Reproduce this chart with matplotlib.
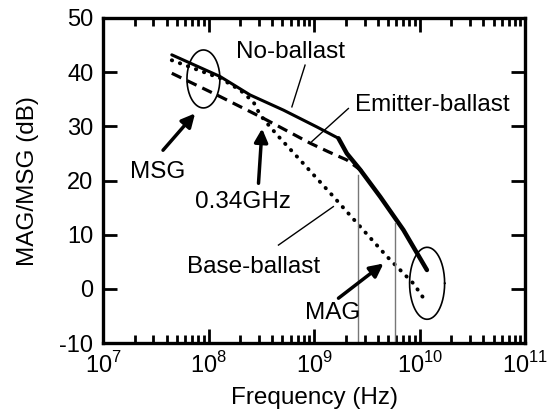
import matplotlib
matplotlib.use("Agg")
import matplotlib.pyplot as plt
import numpy as np

plt.rcParams['font.family'] = ['Liberation Sans', 'DejaVu Sans']
plt.rcParams['mathtext.fontset'] = 'custom'
plt.rcParams['mathtext.rm'] = 'Liberation Sans'
plt.rcParams['font.size'] = 17.5
plt.rcParams['axes.unicode_minus'] = False

# no-ballast (solid)
nb_f = [4.48e7, 1.285e8, 2.47e8, 5.12e8, 1.06e9, 1.70e9, 2.04e9, 2.73e9, 4.23e9, 7.0e9, 1.17e10]
nb_g = [43.2, 39.2, 35.8, 33.0, 29.9, 27.8, 25.0, 22.0, 17.0, 10.9, 3.5]

# emitter-ballast (dashed)
eb_f = [4.48e7, 1.285e8, 3.30e8, 6.15e8, 9.16e8, 1.37e9, 2.04e9, 2.91e9]
eb_g = [39.8, 35.5, 31.5, 28.7, 26.9, 25.3, 23.8, 21.6]

# base-ballast (dotted), MSG then MAG above 0.34 GHz
bb_f = [4.48e7, 1.285e8, 1.99e8, 2.66e8, 3.08e8, 3.83e8, 4.76e8, 7.36e8, 1.06e9,
        1.42e9, 2.73e9, 4.89e9, 8.73e9, 1.17e10]
bb_g = [42.2, 38.9, 36.7, 34.5, 32.1, 29.9, 27.8, 23.8, 20.4, 17.7, 11.5, 6.0, 1.0, -2.6]

# fmax markers (thin grey verticals)
vl_f = [2.59e9, 5.77e9]
vl_g = [21.0, 12.1]

fig = plt.figure(figsize=(5.6, 4.18), dpi=100)
ax = fig.add_axes([0.184, 0.179, 0.754, 0.778])

ax.plot(nb_f[:6], nb_g[:6], color='k', lw=2.2, solid_capstyle='round')
ax.plot(nb_f[5:], nb_g[5:], color='k', lw=3.2, solid_capstyle='round')
ax.plot(eb_f, eb_g, color='k', lw=2.3, linestyle=(0, (3.3, 2.0)))
ax.plot(bb_f, bb_g, color='k', lw=2.8, linestyle=(0, (0.1, 2.1)), dash_capstyle='round')

for f, g in zip(vl_f, vl_g):
    ax.plot([f, f], [-10, g], color='#777777', lw=1)

# ellipses drawn in log-frequency space
t = np.linspace(0, 2 * np.pi, 200)
for lc, gc, a, b in [(7.951, 38.75, 0.156, 5.35), (10.07, 1.05, 0.166, 6.64)]:
    ax.plot(10 ** (lc + a * np.cos(t)), gc + b * np.sin(t), color='k', lw=1.2)

ax.text(5.93e8, 43.8, 'No-ballast', ha='center', va='center')
ax.plot([8.2e8, 6.15e8], [41.3, 33.6], color='k', lw=1)
ax.text(1.31e10, 34.0, 'Emitter-ballast', ha='center', va='center')
ax.plot([2.11e9, 9.5e8], [33.3, 27.2], color='k', lw=1)
ax.text(2.66e8, 4.1, 'Base-ballast', ha='center', va='center')
ax.plot([4.59e8, 1.52e9], [8.1, 15.2], color='k', lw=1)

arrow = dict(arrowstyle='-|>', lw=2.5, color='k', mutation_scale=20, shrinkA=0, shrinkB=0)
ax.annotate('', xy=(7.45e7, 32.4), xytext=(3.7e7, 25.6), arrowprops=arrow)
ax.text(3.3e7, 21.6, 'MSG', ha='center', va='center')
ax.annotate('', xy=(3.21e8, 29.6), xytext=(2.97e8, 19.5), arrowprops=arrow)
ax.text(2.1e8, 16.1, '0.34GHz', ha='center', va='center')
ax.annotate('', xy=(4.54e9, 4.7), xytext=(1.7e9, -1.7), arrowprops=arrow)
ax.text(1.5e9, -4.5, 'MAG', ha='center', va='center')

ax.set_xscale('log')
ax.set_xlim(1e7, 1e11)
ax.set_ylim(-10, 50)
ax.set_yticks(np.arange(-10, 51, 10))
ax.set_xticks([1e7, 1e8, 1e9, 1e10, 1e11])
ax.set_xticklabels(['10$^{7}$', '10$^{8}$', '10$^{9}$', '10$^{10}$', '10$^{11}$'])
ax.set_xlabel('Frequency (Hz)')
ax.set_ylabel('MAG/MSG (dB)')
ax.xaxis.set_label_coords(0.5, -0.135)
ax.yaxis.set_label_coords(-0.152, 0.5)

for s in ax.spines.values():
    s.set_linewidth(2.4)
ax.tick_params(which='both', direction='in', top=True, right=True, width=2)
ax.tick_params(which='major', length=10)
ax.tick_params(which='minor', length=5.5)
ax.tick_params(axis='x', which='major', labelsize=17, pad=6)
ax.tick_params(axis='y', which='major', labelsize=17, pad=7)
ax.tick_params(axis='y', which='minor', left=False, right=False)

fig.savefig('out.png', dpi=100)
